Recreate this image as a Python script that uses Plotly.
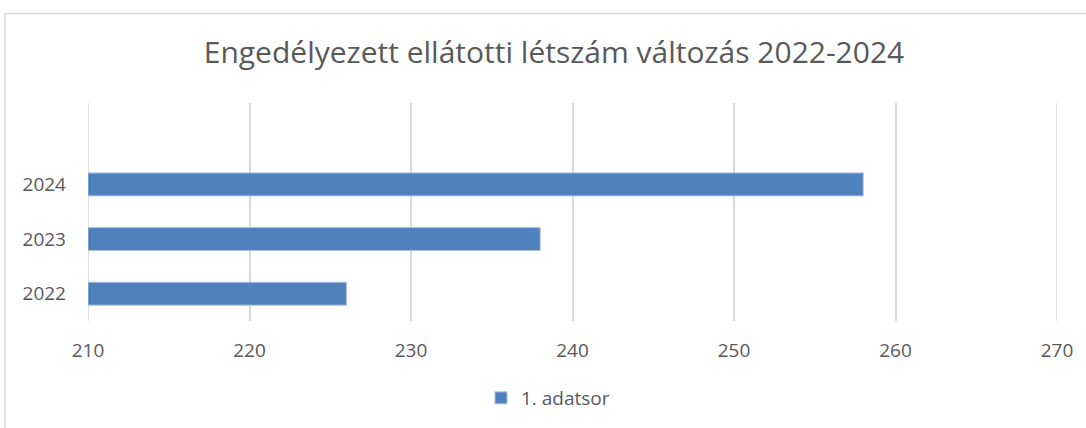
import plotly.graph_objects as go

years = ["2022", "2023", "2024"]
values = [226, 238, 258]
series_name = "1. adatsor"
title = "Engedélyezett ellátotti létszám változás 2022-2024"
x_ticks = [210, 220, 230, 240, 250, 260, 270]

W, H = 1086, 428
L, R, T, B = 88, 29, 103, 106
pw, ph = W - L - R, H - T - B

fig = go.Figure()
fig.add_trace(go.Bar(
    y=years, x=[v - x_ticks[0] for v in values], base=x_ticks[0], orientation="h",
    name=series_name, width=0.42,
    marker=dict(color="#4f81bd", line=dict(color="#a9c1e0", width=1)),
    showlegend=True,
))

edge_lines = [dict(type="line", xref="x", yref="paper", x0=v, x1=v, y0=0, y1=1,
                   line=dict(color="#d9d9d9", width=1.5), layer="below")
              for v in (x_ticks[0], x_ticks[-1])]

fig.update_layout(
    width=W, height=H,
    margin=dict(l=L, r=R, t=T, b=B),
    paper_bgcolor="white", plot_bgcolor="white",
    font=dict(family="Open Sans, Calibri, sans-serif", color="#595959"),
    title=dict(text=title, x=554 / W, xref="container", xanchor="center",
               y=1 - 52 / H, yanchor="middle", yref="container",
               font=dict(size=30, color="#595959")),
    xaxis=dict(range=[x_ticks[0], x_ticks[-1]], tickvals=x_ticks, showgrid=True,
               gridcolor="#d9d9d9", gridwidth=1.5, zeroline=False,
               showline=False, ticks="", tickfont=dict(size=19, color="#595959"),
               ticklabelstandoff=16),
    yaxis=dict(type="category", range=[-0.5, 3.49], showgrid=False,
               zeroline=False, showline=False, ticks="",
               tickfont=dict(size=19, color="#595959"), ticklabelstandoff=21),
    legend=dict(orientation="h", x=(548 - L) / pw, xanchor="center",
                y=-(398 - (T + ph)) / ph, yanchor="middle",
                font=dict(size=19, color="#595959")),
    shapes=[dict(type="rect", xref="paper", yref="paper",
                 x0=(5 - L) / pw, x1=(1092 - L) / pw,
                 y0=-(434 - (T + ph)) / ph, y1=((T + ph) - 13) / ph,
                 line=dict(color="#d9d9d9", width=1.5), layer="below")] + edge_lines,
)

fig.write_html("out.html", config={"displayModeBar": False},
               post_script="document.body.style.margin='0';document.body.style.overflow='hidden';")
